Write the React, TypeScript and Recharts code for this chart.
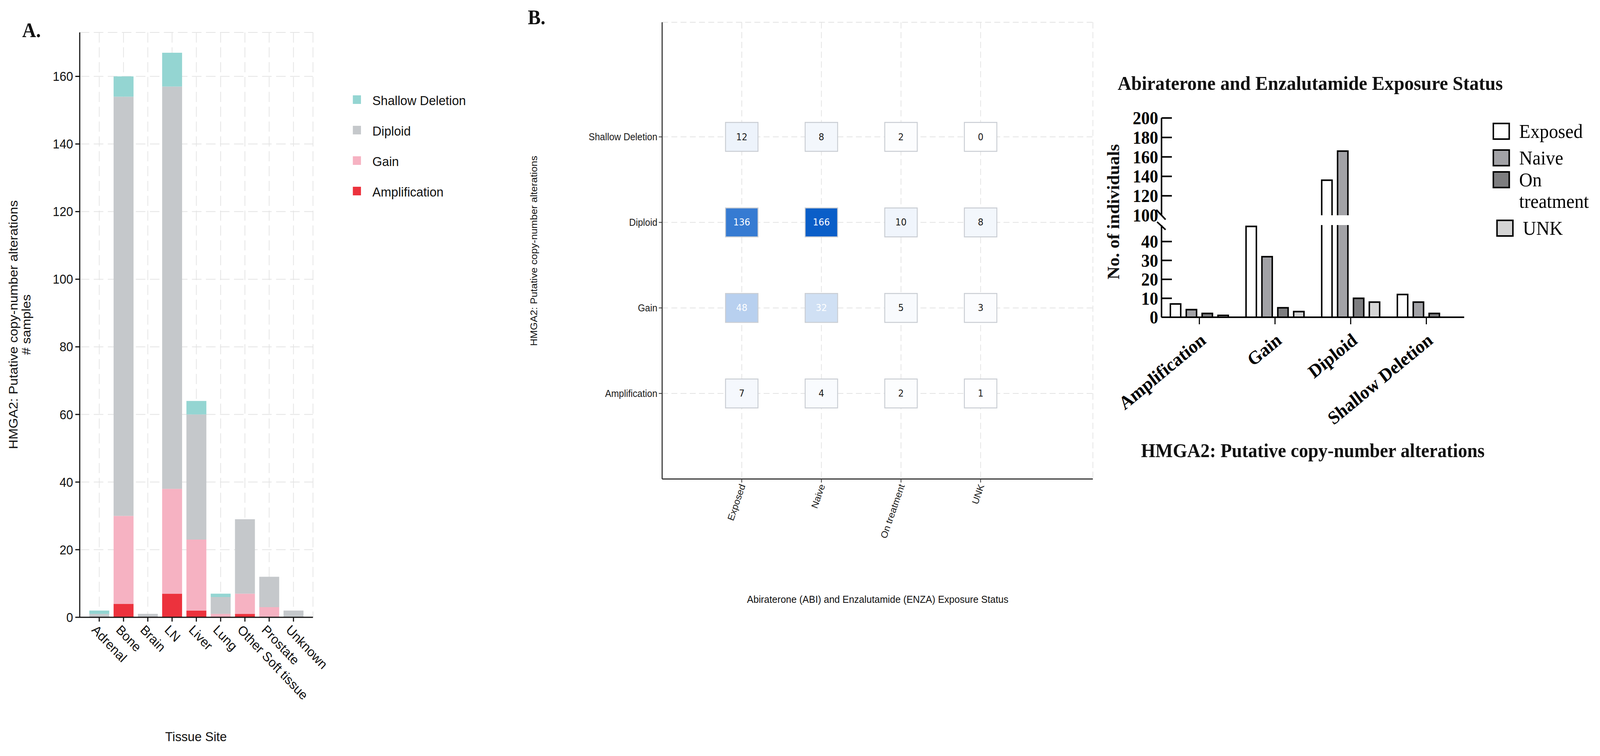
import React from 'react';
import { BarChart, Bar, XAxis, YAxis, CartesianGrid, ScatterChart, Scatter } from 'recharts';

// panel A: HMGA2 CNA by tissue site
const tissueSites = ['Adrenal', 'Bone', 'Brain', 'LN', 'Liver', 'Lung', 'Other Soft tissue', 'Prostate', 'Unknown'];
const amplificationBySite = [0, 4, 0, 7, 2, 0, 1, 0, 0];
const gainBySite = [0, 26, 0, 31, 21, 1, 6, 3, 0];
const diploidBySite = [1, 124, 1, 119, 37, 5, 22, 9, 2];
const shallowDeletionBySite = [1, 6, 0, 10, 4, 1, 0, 0, 0];
const siteTicks = [0, 20, 40, 60, 80, 100, 120, 140, 160];
const stackOrder = ['Amplification', 'Gain', 'Diploid', 'Shallow Deletion'];

// panel B: exposure status x CNA
const exposureStatuses = ['Exposed', 'Naive', 'On treatment', 'UNK'];
const alterations = ['Amplification', 'Gain', 'Diploid', 'Shallow Deletion'];
const exposedCounts = [7, 48, 136, 12];
const naiveCounts = [4, 32, 166, 8];
const onTreatmentCounts = [2, 5, 10, 2];
const unkCounts = [1, 3, 8, 0];
const lowerTicks = [0, 10, 20, 30, 40];
const upperTicks = [100, 120, 140, 160, 180, 200];

const SANS = '"Liberation Sans", Arial, Helvetica, sans-serif';
const SERIF = '"Liberation Serif", "Times New Roman", serif';
const CELL = '"DejaVu Sans", Verdana, sans-serif';

const FIG_W = 4335;
const FIG_H = 1935;

const cnaColors: Record<string, string> = {
  Amplification: '#ec323d',
  Gain: '#f6b2c2',
  Diploid: '#c5c8cb',
  'Shallow Deletion': '#94d5d2',
};
const statusFills = ['#ffffff', '#a2a2a6', '#7d7d7f', '#d5d5d5'];

const siteData = tissueSites.map((site, i) => ({
  site,
  Amplification: amplificationBySite[i],
  Gain: gainBySite[i],
  Diploid: diploidBySite[i],
  'Shallow Deletion': shallowDeletionBySite[i],
}));

const statusCounts = [exposedCounts, naiveCounts, onTreatmentCounts, unkCounts];
const heatCells = exposureStatuses.flatMap((status, c) =>
  alterations.map((alt, r) => ({ x: c + 1, y: r + 1, status, alt, value: statusCounts[c][r] }))
);
const heatMax = Math.max(...statusCounts.flat());

const exposureData = alterations.map((alteration, i) => {
  const row: any = { alteration };
  exposureStatuses.forEach((s, c) => {
    row[s] = statusCounts[c][i];
  });
  return row;
});

const lowerTop = 48.7;

const heatColor = (v: number) => {
  const t = v / heatMax;
  const mix = (a: number, b: number) => Math.round(a + (b - a) * t);
  return `rgb(${mix(255, 10)},${mix(255, 94)},${mix(255, 200)})`;
};

const Txt = ({ x, y, size, children, rotate = 0, family = SANS, weight = 400, center = true, color = '#111' }: any) => (
  <div
    style={{
      position: 'absolute',
      left: x,
      top: y,
      transform: `translate(${center ? '-50%' : '0'}, -50%) rotate(${rotate}deg)`,
      fontSize: size,
      fontFamily: family,
      fontWeight: weight,
      color,
      whiteSpace: 'nowrap',
      lineHeight: 1,
    }}
  >
    {children}
  </div>
);

const SiteTick = ({ x, y, payload }: any) => (
  <g transform={`translate(${x - 5},${y})`}>
    <text transform="rotate(45)" textAnchor="start" dy="0.72em" fontSize={34} fontFamily={SANS} fill="#111">
      {payload.value}
    </text>
  </g>
);

const StatusTick = ({ x, y, payload }: any) => (
  <g transform={`translate(${x + 2},${y})`}>
    <text transform="rotate(-70)" textAnchor="end" dy="0.35em" fontSize={25} fontFamily={SANS} fill="#1a1a1a">
      {exposureStatuses[payload.value - 1]}
    </text>
  </g>
);

const HeatCell = (props: any) => {
  const { cx, cy, payload } = props;
  const v = payload.value;
  return (
    <g>
      <rect x={cx - 44} y={cy - 37} width={88} height={74} fill={heatColor(v)} stroke="#c9cdd3" strokeWidth={2.5} />
      <text x={cx} y={cy} textAnchor="middle" dominantBaseline="central" fontSize={24} fontFamily={CELL}
        fill={v >= 30 ? '#ffffff' : '#1a1a1a'}>
        {v}
      </text>
    </g>
  );
};

// bar with open ends where the broken axis cuts it
const OpenBar = (props: any) => {
  const { x, y, width, height, fill, background } = props;
  if (x == null || y == null) return null;
  let top = Math.min(y, y + height);
  let bottom = Math.max(y, y + height);
  let clippedTop = false;
  if (background) {
    if (top < background.y) {
      top = background.y;
      clippedTop = true;
    }
    bottom = Math.min(bottom, background.y + background.height);
  }
  if (bottom - top < 0.5) return null;
  const d = clippedTop
    ? `M${x},${bottom} L${x},${top} M${x + width},${top} L${x + width},${bottom}`
    : `M${x},${bottom} L${x},${top} L${x + width},${top} L${x + width},${bottom}`;
  return (
    <g>
      <rect x={x} y={top} width={width} height={bottom - top} fill={fill} />
      <path d={d} stroke="#000" strokeWidth={4} fill="none" />
    </g>
  );
};

const CountTick = ({ x, y, payload }: any) => {
  const v = payload.value;
  if (v === lowerTop) {
    return <line x1={x - 12} y1={y - 8} x2={x + 11} y2={y + 12} stroke="#000" strokeWidth={4} />;
  }
  return (
    <g>
      {v === 100 ? (
        <line x1={x - 14} y1={y - 14} x2={x + 11} y2={y + 11} stroke="#000" strokeWidth={4} />
      ) : (
        <line x1={x} y1={y} x2={x + 28} y2={y} stroke="#000" strokeWidth={4} />
      )}
      <text x={x - 9} y={y} dy="0.35em" textAnchor="end" fontSize={46} fontWeight="bold" fontFamily={SERIF} fill="#000">
        {v}
      </text>
    </g>
  );
};

const AltTick = ({ x, y, payload }: any) => (
  <g transform={`translate(${x},${y})`}>
    <text transform="rotate(-38)" textAnchor="end" dy="0.7em" fontSize={48} fontWeight="bold" fontFamily={SERIF} fill="#000">
      {payload.value}
    </text>
  </g>
);

// legend swatch placement for the exposure legend
const legendRows = [
  { top: 314, left: 4044 },
  { top: 382, left: 4044 },
  { top: 438, left: 4044 },
  { top: 562, left: 4054 },
];

export default function App() {
  const cnaLegend = [...stackOrder].reverse();
  // the page may be narrower than the figure: squeeze it horizontally to fit
  const viewW = typeof window !== 'undefined' ? window.innerWidth : FIG_W;
  const sx = Math.min(1, viewW / FIG_W);
  return (
    <div style={{ position: 'absolute', left: 0, top: 0, width: FIG_W, height: FIG_H, background: '#fff', overflow: 'hidden', transform: `scaleX(${sx})`, transformOrigin: '0 0' }}>
      {/* panel A */}
      <div style={{ position: 'absolute', left: 0, top: 0 }}>
        <BarChart width={1000} height={1935} data={siteData} margin={{ top: 83, right: 152, bottom: 0, left: 0 }} barSize={54}>
          <CartesianGrid stroke="#e4e4e4" strokeWidth={2} strokeDasharray="26 12" />
          <XAxis
            dataKey="site"
            height={355}
            interval={0}
            padding={{ left: 20, right: 20 }}
            tickSize={11}
            tickMargin={6}
            axisLine={{ stroke: '#111', strokeWidth: 3 }}
            tickLine={{ stroke: '#111', strokeWidth: 3 }}
            tick={<SiteTick />}
          />
          <YAxis
            width={216}
            domain={[0, 173]}
            ticks={siteTicks}
            interval={0}
            allowDataOverflow
            tickSize={12}
            tickMargin={6}
            axisLine={{ stroke: '#111', strokeWidth: 3 }}
            tickLine={{ stroke: '#111', strokeWidth: 3 }}
            tick={{ fontSize: 33, fill: '#111', fontFamily: SANS }}
          />
          {stackOrder.map((k) => (
            <Bar key={k} dataKey={k} stackId="cna" fill={cnaColors[k]} isAnimationActive={false} />
          ))}
        </BarChart>
      </div>
      <Txt x={60} y={78} size={52} family={SERIF} weight={700} center={false}>A.</Txt>
      <Txt x={36} y={831} size={34} rotate={-90}>HMGA2: Putative copy-number alterations</Txt>
      <Txt x={71} y={831} size={34} rotate={-90}># samples</Txt>
      <Txt x={531} y={1885} size={34}>Tissue Site</Txt>
      {cnaLegend.map((name, i) => (
        <React.Fragment key={name}>
          <div style={{ position: 'absolute', left: 956, top: 255 + i * 78 - 11, width: 22, height: 22, background: cnaColors[name] }} />
          <Txt x={1009} y={257 + i * 78} size={34} center={false}>{name}</Txt>
        </React.Fragment>
      ))}

      {/* panel B heatmap */}
      <div style={{ position: 'absolute', left: 1300, top: 0 }}>
        <ScatterChart width={1700} height={1935} margin={{ top: 57, right: 39, bottom: 0, left: 0 }}>
          <CartesianGrid stroke="#e3e3e3" strokeWidth={2} strokeDasharray="16 9" />
          <XAxis
            type="number"
            dataKey="x"
            domain={[0, 5.41]}
            ticks={exposureStatuses.map((_, i) => i + 1)}
            interval={0}
            allowDataOverflow
            height={709}
            tickSize={9}
            tickMargin={5}
            axisLine={{ stroke: '#333', strokeWidth: 3 }}
            tickLine={{ stroke: '#333', strokeWidth: 2 }}
            tick={<StatusTick />}
          />
          <YAxis
            type="number"
            dataKey="y"
            domain={[0, 5.34]}
            ticks={alterations.map((_, i) => i + 1)}
            interval={0}
            allowDataOverflow
            width={494}
            tickSize={9}
            tickMargin={4}
            axisLine={{ stroke: '#333', strokeWidth: 3 }}
            tickLine={{ stroke: '#333', strokeWidth: 2 }}
            tick={{ fontSize: 25, fill: '#1a1a1a', fontFamily: SANS }}
            tickFormatter={(v: number) => alterations[v - 1]}
          />
          <Scatter data={heatCells} shape={(p: any) => <HeatCell {...p} />} isAnimationActive={false} />
        </ScatterChart>
      </div>
      <Txt x={1430} y={45} size={52} family={SERIF} weight={700} center={false}>B.</Txt>
      <Txt x={1446} y={642} size={26} rotate={-90}>HMGA2: Putative copy-number alterations</Txt>
      <Txt x={2378} y={1534} size={26}>Abiraterone (ABI) and Enzalutamide (ENZA) Exposure Status</Txt>

      {/* panel B bars, broken axis: upper segment */}
      <div style={{ position: 'absolute', left: 2900, top: 0 }}>
        <BarChart width={1100} height={600} data={exposureData} margin={{ top: 302, right: 33, bottom: 49, left: 0 }} barSize={28} barGap={15}>
          <XAxis dataKey="alteration" hide />
          <YAxis
            width={247}
            domain={[100, 200]}
            allowDataOverflow
            ticks={upperTicks}
            interval={0}
            tickSize={0}
            tickMargin={0}
            tickLine={false}
            axisLine={{ stroke: '#000', strokeWidth: 4 }}
            tick={<CountTick />}
          />
          {exposureStatuses.map((s, i) => (
            <Bar key={s} dataKey={s} fill={statusFills[i]} shape={(p: any) => <OpenBar {...p} />} isAnimationActive={false} />
          ))}
        </BarChart>
      </div>
      {/* lower segment */}
      <div style={{ position: 'absolute', left: 2900, top: 560 }}>
        <BarChart width={1100} height={1375} data={exposureData} margin={{ top: 16, right: 33, bottom: 0, left: 0 }} barSize={28} barGap={15}>
          <XAxis
            dataKey="alteration"
            height={1123}
            interval={0}
            tickSize={18}
            tickMargin={20}
            axisLine={{ stroke: '#000', strokeWidth: 4 }}
            tickLine={{ stroke: '#000', strokeWidth: 3 }}
            tick={<AltTick />}
          />
          <YAxis
            width={247}
            domain={[0, lowerTop]}
            allowDataOverflow
            ticks={[...lowerTicks, lowerTop]}
            interval={0}
            tickSize={0}
            tickMargin={0}
            tickLine={false}
            axisLine={{ stroke: '#000', strokeWidth: 4 }}
            tick={<CountTick />}
          />
          {exposureStatuses.map((s, i) => (
            <Bar key={s} dataKey={s} fill={statusFills[i]} shape={(p: any) => <OpenBar {...p} />} isAnimationActive={false} />
          ))}
        </BarChart>
      </div>
      <Txt x={3550} y={213} size={51} family={SERIF} weight={700}>Abiraterone and Enzalutamide Exposure Status</Txt>
      <Txt x={3017} y={542} size={46} family={SERIF} weight={700} rotate={-90}>No. of individuals</Txt>
      <Txt x={3557} y={1153} size={50} family={SERIF} weight={700}>HMGA2: Putative copy-number alterations</Txt>
      {exposureStatuses.map((s, i) => (
        <React.Fragment key={s}>
          <div style={{ position: 'absolute', left: legendRows[i].left, top: legendRows[i].top, width: 47, height: 44, boxSizing: 'border-box', border: '4px solid #000', background: statusFills[i] }} />
          <div style={{ position: 'absolute', left: legendRows[i].left + 72, top: legendRows[i].top - 5, width: 205, fontSize: 50, fontFamily: SERIF, color: '#000', lineHeight: '55px' }}>{s}</div>
        </React.Fragment>
      ))}
    </div>
  );
}
